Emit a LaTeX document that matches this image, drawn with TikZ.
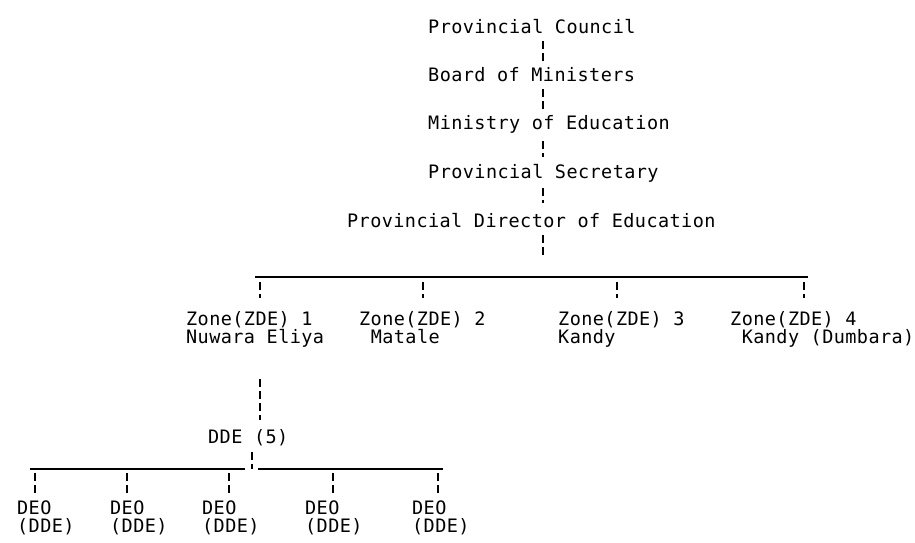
\documentclass[tikz,border=0pt]{standalone}
\usepackage{fontspec}
\newfontfamily\chartfont{DejaVu Sans Mono}[LetterSpace=2.3]
\begin{document}
\begin{tikzpicture}[x=1pt,y=-1pt,
    post/.style={inner sep=0pt,anchor=base west,align=left,
        font=\chartfont\fontsize{18.5}{17.5}\selectfont},
    link/.style={line width=1.4pt,dash pattern=on 8pt off 4pt},
    bar/.style={line width=1.4pt}]
    \useasboundingbox (0,0) rectangle (915,542);
    \coordinate (spine) at (543,0);

    % provincial line
    \node[post] (pc) at (428,33) {Provincial Council};
    \node[post] (bm) at (428,81) {Board of Ministers};
    \node[post] (me) at (428,129) {Ministry of Education};
    \node[post] (ps) at (428,178) {Provincial Secretary};
    \node[post] (pde) at (347,227) {Provincial Director of Education};

    \draw[link,shorten <=8pt,shorten >=6pt] (pc.south -| spine) -- (bm.north -| spine);
    \draw[link,shorten <=8pt,shorten >=6pt] (bm.south -| spine) -- (me.north -| spine);
    \draw[link,shorten <=8pt,shorten >=7pt] (me.south -| spine) -- (ps.north -| spine);
    \draw[link,shorten <=6pt,shorten >=10pt] (ps.south -| spine) -- (pde.north -| spine);

    % zones
    \coordinate (zl) at (255,277);
    \coordinate (zr) at (808,277);
    \draw[link,shorten <=8pt,shorten >=22pt] (pde.south -| spine) -- (zl -| spine);
    \draw[bar] (zl) -- (zr);

    \node[post] (z1) at (186,343) {Zone(ZDE) 1\\Nuwara Eliya};
    \node[post] (z2) at (359,343) {Zone(ZDE) 2\\~Matale};
    \node[post] (z3) at (558,343) {Zone(ZDE) 3\\Kandy};
    \node[post] (z4) at (730,343) {Zone(ZDE) 4\\~Kandy (Dumbara)};

    \coordinate (t1) at (260,277);
    \coordinate (t2) at (423,277);
    \coordinate (t3) at (617,277);
    \coordinate (t4) at (804,277);
    \draw[link,shorten <=5pt,shorten >=13pt] (t1) -- (t1 |- z1.north);
    \draw[link,shorten <=5pt,shorten >=13pt] (t2) -- (t2 |- z2.north);
    \draw[link,shorten <=5pt,shorten >=13pt] (t3) -- (t3 |- z3.north);
    \draw[link,shorten <=5pt,shorten >=13pt] (t4) -- (t4 |- z4.north);

    % deputy directors
    \node[post] (dde) at (208,443) {DDE (5)};
    \draw[link,shorten <=32pt,shorten >=9pt] (t1 |- z1.south) -- (t1 |- dde.north);

    \coordinate (dl) at (30,469);
    \coordinate (dml) at (245,469);
    \coordinate (dmr) at (258,469);
    \coordinate (dr) at (443,469);
    \coordinate (dm) at (252,469);
    \draw[link,shorten <=6pt] (dde.south -| dm) -- (dm);
    \draw[bar] (dl) -- (dml);
    \draw[bar] (dmr) -- (dr);

    % education officers
    \node[post] (deo1) at (17,532) {DEO\\(DDE)};
    \node[post] (deo2) at (110,532) {DEO\\(DDE)};
    \node[post] (deo3) at (202,532) {DEO\\(DDE)};
    \node[post] (deo4) at (305,532) {DEO\\(DDE)};
    \node[post] (deo5) at (412,532) {DEO\\(DDE)};

    \coordinate (d1) at (35,469);
    \coordinate (d2) at (127,469);
    \coordinate (d3) at (229,469);
    \coordinate (d4) at (333,469);
    \coordinate (d5) at (438,469);
    \draw[link,shorten <=4pt,shorten >=8pt] (d1) -- (d1 |- deo1.north);
    \draw[link,shorten <=4pt,shorten >=8pt] (d2) -- (d2 |- deo2.north);
    \draw[link,shorten <=4pt,shorten >=8pt] (d3) -- (d3 |- deo3.north);
    \draw[link,shorten <=4pt,shorten >=8pt] (d4) -- (d4 |- deo4.north);
    \draw[link,shorten <=4pt,shorten >=8pt] (d5) -- (d5 |- deo5.north);
\end{tikzpicture}
\end{document}
